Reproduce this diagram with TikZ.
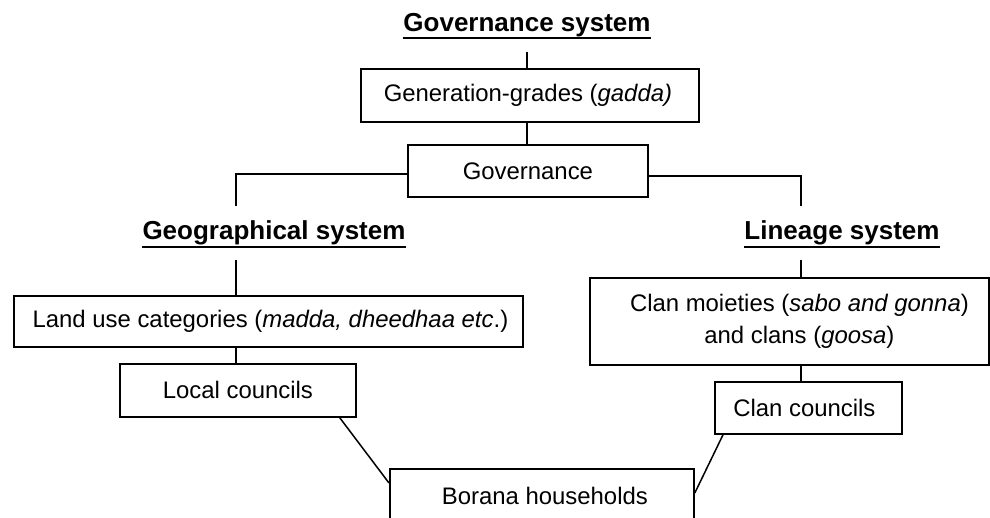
\documentclass[tikz,border=0pt]{standalone}
\usepackage{fontspec}
\setmainfont{Liberation Sans}
\begin{document}
\begin{tikzpicture}[x=1pt,y=-1pt,
  txt/.style={font=\fontsize{23.9}{32}\selectfont},
  ttl/.style={font=\fontsize{26}{30}\selectfont\bfseries, inner sep=0pt, anchor=base},
  ul/.style={line width=2.6pt},
  bx/.style={draw, line width=1.8pt, rectangle, inner sep=0pt, anchor=north west},
  ln/.style={line width=1.5pt}]
\useasboundingbox (0,0) rectangle (990,518);
\clip (0,0) rectangle (990,518);
% titles
\node[ttl] (tgov) at (527,32) {Governance system};
\node[ttl] (tgeo) at (274,240) {Geographical system};
\node[ttl] (tlin) at (842,240) {Lineage system};
\draw[ul] ([yshift=-6pt]tgov.base west) -- ([yshift=-6pt]tgov.base east);
\draw[ul] ([yshift=-7pt]tgeo.base west) -- ([yshift=-7pt]tgeo.base east);
\draw[ul] ([yshift=-7pt]tlin.base west) -- ([yshift=-7pt]tlin.base east);
% boxes
\node[bx, minimum width=338pt, minimum height=53pt] (gen) at (360,68) {};
\node[txt] at ([xshift=-2pt]gen.center) {Generation-grades (\textit{gadda)}};
\node[bx, minimum width=240pt, minimum height=52pt] (gov) at (407,144) {};
\node[txt] at (gov.center) {Governance};
\node[bx, minimum width=509pt, minimum height=51pt] (land) at (13,295) {};
\node[txt] at ([xshift=2pt]land.center) {Land use categories (\textit{madda, dheedhaa etc}.)};
\node[bx, minimum width=399pt, minimum height=87pt] (cm) at (589,277) {};
\node[txt, align=center] at ([xshift=10pt]cm.center) {Clan moieties (\textit{sabo and gonna})\\and clans (\textit{goosa})};
\node[bx, minimum width=236pt, minimum height=53pt] (loc) at (119,363) {};
\node[txt] at (loc.center) {Local councils};
\node[bx, minimum width=187pt, minimum height=52pt] (cc) at (714,381) {};
\node[txt] at ([xshift=-4pt]cc.center) {Clan councils};
\node[bx, minimum width=304pt, minimum height=54pt] (bor) at (389,468) {};
\node[txt] at ([xshift=3pt]bor.center) {Borana households};
% coordinates
\coordinate (g1) at (527,52);
\coordinate (geoT) at (236,206);
\coordinate (geoB) at (236,260);
\coordinate (linT) at (801,206);
\coordinate (linB) at (801,260);
% connectors
\draw[ln] (g1) -- (g1 |- gen.north);
\draw[ln] (g1 |- gen.south) -- (g1 |- gov.north);
\draw[ln] ([yshift=-3pt]gov.west) -| (geoT);
\draw[ln] ([yshift=-5pt]gov.east) -| (linT);
\draw[ln] (geoB) -- (geoB |- land.north);
\draw[ln] (geoB |- land.south) -- (geoB |- loc.north);
\draw[ln] (linB) -- (linB |- cm.north);
\draw[ln] (linB |- cm.south) -- (linB |- cc.north);
\draw[ln] ([xshift=-17pt]loc.south east) -- ([yshift=-15pt]bor.north west);
\draw[ln] ([xshift=9pt]cc.south west) -- ([yshift=-25pt]bor.north east);
\end{tikzpicture}
\end{document}
